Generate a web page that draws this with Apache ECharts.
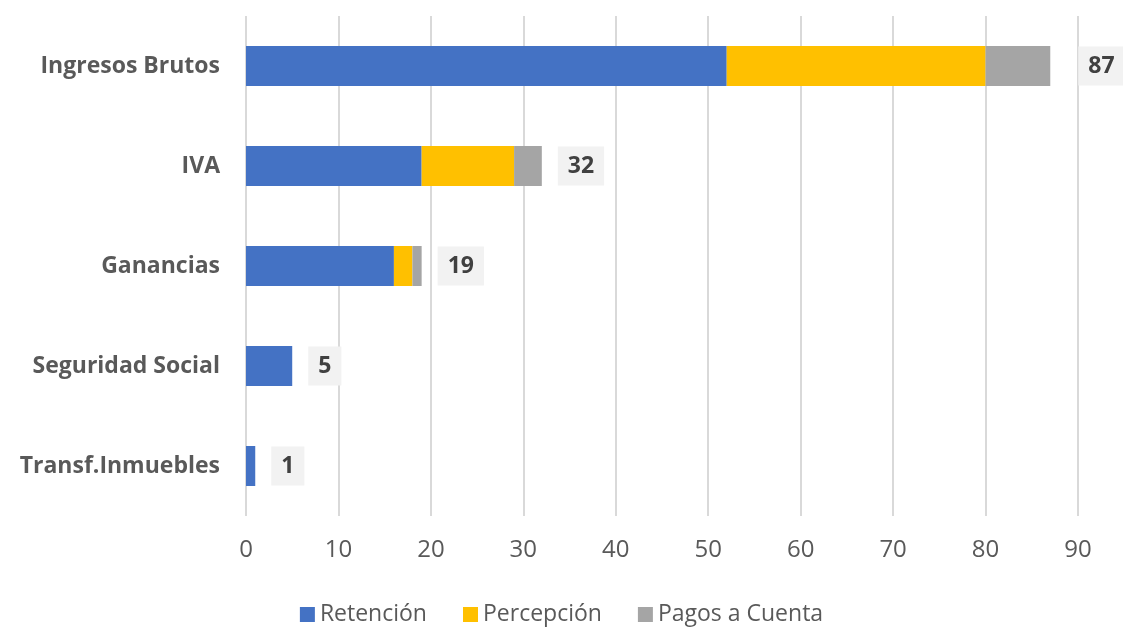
<!DOCTYPE html>
<html>
<head>
<meta charset="utf-8">
<script src="https://cdn.jsdelivr.net/npm/echarts@6/dist/echarts.min.js"></script>
<style>
  html, body { margin: 0; padding: 0; background: #fff; }
  #chart { width: 1123px; height: 631px; }
</style>
</head>
<body>
<div id="chart"></div>
<script>
// categories listed bottom to top (category axis starts at the bottom)
const categories = ["Transf.Inmuebles", "Seguridad Social", "Ganancias", "IVA", "Ingresos Brutos"];
const retencion = [1, 5, 16, 19, 52];
const percepcion = [0, 0, 2, 10, 28];
const pagosCuenta = [0, 0, 1, 3, 7];
const xTicks = [0, 10, 20, 30, 40, 50, 60, 70, 80, 90];

const totals = categories.map((_, i) => retencion[i] + percepcion[i] + pagosCuenta[i]);
const maxTotal = Math.max(...totals);

const FONT = "'Open Sans', 'Noto Sans', sans-serif";

const chart = echarts.init(document.getElementById("chart"), null, { renderer: "canvas" });

const stackedBar = (name, data, color) => ({
  name: name,
  type: "bar",
  stack: "total",
  barWidth: "40%",
  color: color,
  animation: false,
  data: data,
});

chart.setOption({
  backgroundColor: "#ffffff",
  textStyle: { fontFamily: FONT },
  grid: {
    left: 246,
    right: 45,
    top: 16,
    bottom: 115,
  },
  legend: {
    bottom: 0,
    left: "center",
    itemWidth: 15,
    itemHeight: 15,
    itemGap: 36,
    icon: "rect",
    textStyle: { fontSize: 23, color: "#595959", fontFamily: FONT },
    data: ["Retención", "Percepción", "Pagos a Cuenta"],
  },
  xAxis: {
    type: "value",
    min: xTicks[0],
    max: xTicks[xTicks.length - 1],
    interval: 10,
    axisLine: { show: false },
    axisTick: { show: false },
    splitLine: { lineStyle: { color: "#d9d9d9", width: 2 } },
    axisLabel: { fontSize: 24, color: "#595959", margin: 22, fontFamily: FONT },
  },
  yAxis: {
    type: "category",
    data: categories,
    axisLine: { show: false },
    axisTick: { show: false },
    axisLabel: { fontSize: 23, fontWeight: "bold", color: "#595959", margin: 26, fontFamily: FONT },
  },
  series: [
    stackedBar("Retención", retencion, "#4472C4"),
    stackedBar("Percepción", percepcion, "#FFC000"),
    stackedBar("Pagos a Cuenta", pagosCuenta, "#A5A5A5"),
    {
      name: "Total",
      type: "bar",
      barWidth: "40%",
      barGap: "-100%",
      animation: false,
      silent: true,
      itemStyle: { color: "transparent" },
      z: 1,
      label: {
        show: true,
        position: "right",
        distance: 16,
        fontSize: 23,
        fontWeight: "bold",
        color: "#404040",
        fontFamily: FONT,
        backgroundColor: "#f2f2f2",
        padding: [8, 10, 8, 10],
      },
      data: totals.map((v) => (v === maxTotal ? { value: v, label: { distance: 28 } } : v)),
    },
  ],
});
</script>
</body>
</html>
